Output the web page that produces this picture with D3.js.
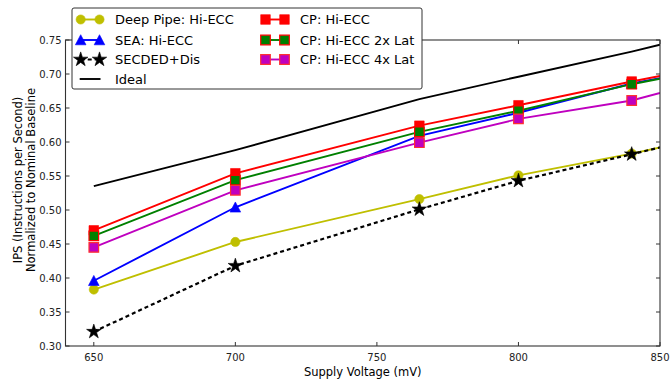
<!DOCTYPE html>
<html><head><meta charset="utf-8">
<script src="https://cdn.jsdelivr.net/npm/d3@7"></script>
<style>body{margin:0;background:#fff}svg{display:block}text{font-family:"DejaVu Sans",sans-serif}</style>
</head><body>
<script>
// Data (x in mV; last point at 850 is where each line meets the right edge, no marker)
const voltages = [650, 700, 765, 800, 840, 850];
const markerCount = 5;
const deepPipe = [0.383, 0.453, 0.516, 0.551, 0.583, 0.592];
const sea      = [0.396, 0.504, 0.609, 0.643, 0.686, 0.694];
const secded   = [0.321, 0.418, 0.501, 0.543, 0.582, 0.592];
const ideal    = [0.535, 0.588, 0.663, 0.696, 0.733, 0.743];
const cp       = [0.470, 0.554, 0.624, 0.654, 0.689, 0.697];
const cp2x     = [0.462, 0.544, 0.615, 0.646, 0.685, 0.693];
const cp4x     = [0.445, 0.529, 0.599, 0.634, 0.661, 0.672];
const xTicks = [650, 700, 750, 800, 850];
const yTicks = [0.30, 0.35, 0.40, 0.45, 0.50, 0.55, 0.60, 0.65, 0.70, 0.75];

const series = [
  {name: "Deep Pipe: Hi-ECC", vals: deepPipe, color: "#bfbf00", marker: "circle", fill: "#bfbf00", edge: "#bfbf00", dash: null},
  {name: "SEA: Hi-ECC", vals: sea, color: "#0000ff", marker: "triangle", fill: "#0000ff", edge: "#0000ff", dash: null},
  {name: "SECDED+Dis", vals: secded, color: "#000000", marker: "star", fill: "#000000", edge: "#000000", dash: "4,3"},
  {name: "Ideal", vals: ideal, color: "#000000", marker: null, dash: null},
  {name: "CP: Hi-ECC", vals: cp, color: "#ff0000", marker: "square", fill: "#ff0000", edge: "#ff0000", dash: null},
  {name: "CP: Hi-ECC 2x Lat", vals: cp2x, color: "#008000", marker: "square", fill: "#008000", edge: "#ff0000", dash: null},
  {name: "CP: Hi-ECC 4x Lat", vals: cp4x, color: "#bf00bf", marker: "square", fill: "#bf00bf", edge: "#ff3030", dash: null}
];

const W = 672, H = 381;
const L = 65.5, R = 660, T = 40, B = 346;
const x = d3.scaleLinear().domain([640, 850]).range([L, R]);
const y = d3.scaleLinear().domain([0.30, 0.75]).range([B, T]);

const svg = d3.select("body").append("svg").attr("width", W).attr("height", H);

svg.append("defs").append("clipPath").attr("id", "clip")
  .append("rect").attr("x", L).attr("y", T).attr("width", R - L).attr("height", B - T);

function markerPath(type) {
  const s = 4.8;
  if (type === "circle") return d3.symbol(d3.symbolCircle, Math.PI * 4.6 * 4.6)();
  if (type === "square") return `M${-s},${-s}H${s}V${s}H${-s}Z`;
  if (type === "triangle") return `M0,${-s - 0.5}L${s + 0.5},${s}L${-s - 0.5},${s}Z`;
  if (type === "star") return d3.symbol(d3.symbolStar, 7.6 * 7.6 / 0.8908130915292852)();
  return null;
}

// axes: ticks
const gAx = svg.append("g");
xTicks.forEach(v => {
  gAx.append("line").attr("x1", x(v)).attr("x2", x(v)).attr("y1", B).attr("y2", B - 4).attr("stroke", "#333");
  gAx.append("line").attr("x1", x(v)).attr("x2", x(v)).attr("y1", T).attr("y2", T + 4).attr("stroke", "#333");
  gAx.append("text").attr("x", x(v)).attr("y", 361).attr("text-anchor", "middle")
    .attr("font-size", 10).attr("fill", "#222").text(v);
});
yTicks.forEach(v => {
  gAx.append("line").attr("x1", L).attr("x2", L + 4).attr("y1", y(v)).attr("y2", y(v)).attr("stroke", "#333");
  gAx.append("line").attr("x1", R).attr("x2", R - 4).attr("y1", y(v)).attr("y2", y(v)).attr("stroke", "#333");
  gAx.append("text").attr("x", 61.5).attr("y", y(v) + 3.6).attr("text-anchor", "end")
    .attr("font-size", 10).attr("fill", "#222").text(d3.format(".2f")(v));
});

// data
const plot = svg.append("g").attr("clip-path", "url(#clip)");
const line = d3.line().x((d, i) => x(voltages[i])).y(d => y(d));
series.forEach(s => {
  plot.append("path").attr("d", line(s.vals)).attr("fill", "none")
    .attr("stroke", s.color).attr("stroke-width", s.dash ? 2.2 : 1.9)
    .attr("stroke-dasharray", s.dash);
  if (s.marker) {
    s.vals.slice(0, markerCount).forEach((v, i) => {
      plot.append("path").attr("d", markerPath(s.marker))
        .attr("transform", `translate(${x(voltages[i])},${y(v)})`)
        .attr("fill", s.fill).attr("stroke", s.edge).attr("stroke-width", s.marker === "square" && s.edge !== s.fill ? 1.2 : 0.6);
    });
  }
});

// frame
svg.append("rect").attr("x", L).attr("y", T).attr("width", R - L).attr("height", B - T)
  .attr("fill", "none").attr("stroke", "#333").attr("stroke-width", 1.1);

// legend
const lg = svg.append("g");
lg.append("rect").attr("x", 72).attr("y", 8).attr("width", 350).attr("height", 81).attr("rx", 2)
  .attr("fill", "#fff").attr("stroke", "#333").attr("stroke-width", 1);
const rowsY = [19.5, 40, 59.5, 79];
series.forEach((s, k) => {
  const col = k < 4 ? 0 : 1;
  const row = k < 4 ? k : k - 4;
  const x0 = col === 0 ? 80.7 : 265.5, x1 = col === 0 ? 99.5 : 284.5;
  const tx = col === 0 ? 115 : 300;
  const yy = rowsY[row];
  lg.append("line").attr("x1", s.marker ? x0 : x0 - 1).attr("x2", s.marker ? x1 : x1 + 1).attr("y1", yy).attr("y2", yy)
    .attr("stroke", s.color).attr("stroke-width", s.dash ? 2.2 : 1.9).attr("stroke-dasharray", s.dash);
  if (s.marker) {
    [x0, x1].forEach(mx => {
      lg.append("path").attr("d", markerPath(s.marker)).attr("transform", `translate(${mx},${yy})`)
        .attr("fill", s.fill).attr("stroke", s.edge).attr("stroke-width", s.marker === "square" && s.edge !== s.fill ? 1.2 : 0.6);
    });
  }
  lg.append("text").attr("x", tx).attr("y", yy + 4.7).attr("font-size", 13).attr("fill", "#000").text(s.name);
});

// axis labels
svg.append("text").attr("x", (L + R) / 2).attr("y", 376).attr("text-anchor", "middle")
  .attr("font-size", 11.5).attr("fill", "#000").text("Supply Voltage (mV)");
const yl = svg.append("text").attr("transform", "translate(0,180) rotate(-90)").attr("text-anchor", "middle")
  .attr("font-size", 11.5).attr("fill", "#000");
yl.append("tspan").attr("x", 0).attr("y", 22).text("IPS (Instructions per Second)");
yl.append("tspan").attr("x", 0).attr("y", 35).text("Normalized to Nominal Baseline");
</script>
</body></html>
